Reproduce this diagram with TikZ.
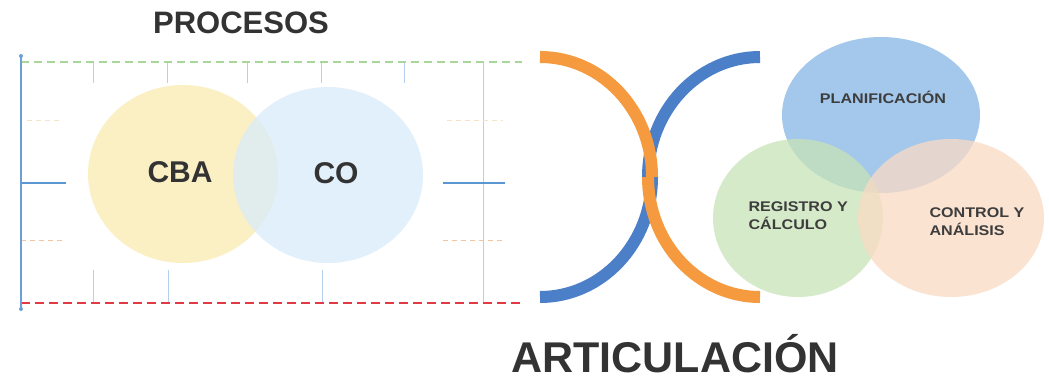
\documentclass[tikz,border=0pt]{standalone}
\usepackage{fontspec}
\setmainfont{Liberation Sans}
\newfontfamily\widesans{Liberation Sans}[FakeStretch=1.15]
\begin{document}
\begin{tikzpicture}[x=1pt,y=-1pt,
  ticksty/.style={draw=tickblue, line width=1pt},
  framesty/.style={draw=frameblue, line width=2pt},
  bigtitle/.style={font=\bfseries\fontsize{31}{36}\selectfont, text=txtgray},
  bigvenn/.style={font=\bfseries\fontsize{30}{34}\selectfont, text=txtgray},
  smallvenn/.style={font=\widesans\bfseries\fontsize{14}{18}\selectfont, text=smallgray, align=left},
  arcsty/.style={line width=12pt}]
\definecolor{txtgray}{HTML}{333333}
\definecolor{smallgray}{HTML}{3D3D3D}
\definecolor{tickblue}{HTML}{B5D0EC}
\definecolor{frameblue}{HTML}{6A9FD8}
\definecolor{midblue}{HTML}{5B97D2}
\definecolor{dgreen}{HTML}{A9D69A}
\definecolor{dred}{HTML}{E03A45}
\definecolor{fpeach}{HTML}{F6E2C6}
\definecolor{forange}{HTML}{F4C3A0}
\definecolor{cbacol}{HTML}{FAEBB0}
\definecolor{cocol}{HTML}{D8ECFA}
\definecolor{plancol}{HTML}{86B6E6}
\definecolor{regcol}{HTML}{C8E3B6}
\definecolor{ctrlcol}{HTML}{FADAC4}
\definecolor{arcorange}{HTML}{F59A3E}
\definecolor{arcblue}{HTML}{4B7FC8}

\useasboundingbox (0,0) rectangle (1049,383);
\fill[white] (0,0) rectangle (1049,383);

% frame coordinates
\coordinate (tl) at (21,62);
\coordinate (tr) at (522,62);
\coordinate (bl) at (21,303);
\coordinate (br) at (522,303);

% ticks
\foreach \x in {93,167,247,321,404} \draw[ticksty] (\x,62) -- (\x,83);
\foreach \x in {93,168,322} \draw[ticksty] (\x,270) -- (\x,303);
\draw[ticksty] (483,62) -- (483,303);

% faint dashed lines
\draw[fpeach, line width=1pt, dash pattern=on 5pt off 4pt] (27,120) -- (63,120);
\draw[fpeach, line width=1pt, dash pattern=on 5pt off 4pt] (447,120) -- (503,120);
\draw[forange, line width=1pt, dash pattern=on 5pt off 4pt] (21,240) -- (63,240);
\draw[forange, line width=1pt, dash pattern=on 5pt off 4pt] (443,240) -- (503,240);

% dashed top and bottom
\draw[dgreen, line width=1.6pt, dash pattern=on 8pt off 5pt] (tl) -- (tr);
\draw[dred, line width=2.6pt, dash pattern=on 9pt off 5pt] (bl) -- (br);

% left vertical
\coordinate (vtop) at (21,56);
\coordinate (vbot) at (21,309);
\draw[framesty] (vtop) -- (vbot);
\fill[frameblue] (vtop) circle (2pt);
\fill[frameblue] (vbot) circle (2pt);

% middle horizontal lines
\coordinate (ml1) at (21,183);
\coordinate (ml2) at (66,183);
\coordinate (mr1) at (443,183);
\coordinate (mr2) at (505,183);
\draw[midblue, line width=2.4pt] (ml1) -- (ml2);
\draw[midblue, line width=2.4pt] (mr1) -- (mr2);

% left Venn
\fill[cbacol, fill opacity=0.75] (183,174) ellipse [x radius=95, y radius=89];
\fill[cocol, fill opacity=0.75] (328,175) ellipse [x radius=95, y radius=88];
\node[bigvenn] (cba) at (180,172) {CBA};
\node[bigvenn] (co) at (336,173) {CO};

% title
\node[bigtitle] (procesos) at (241,23) {PROCESOS};

% arcs (y axis points down: angle -90 is the top)
\draw[arcblue, arcsty] (540,177) ++(90:112 and 120) arc[start angle=90, end angle=0, x radius=112, y radius=120];
\draw[arcblue, arcsty] (760,177) ++(-90:112 and 120) arc[start angle=-90, end angle=-180, x radius=112, y radius=120];
\draw[arcorange, arcsty] (540,177) ++(-90:112 and 120) arc[start angle=-90, end angle=0, x radius=112, y radius=120];
\draw[arcorange, arcsty] (760,177) ++(90:112 and 120) arc[start angle=90, end angle=180, x radius=112, y radius=120];

% right Venn
\fill[plancol, fill opacity=0.75] (881,115) ellipse [x radius=99, y radius=78];
\fill[regcol, fill opacity=0.75] (798,218) ellipse [x radius=85, y radius=79];
\fill[ctrlcol, fill opacity=0.75] (951,218) ellipse [x radius=93, y radius=79];
\node[smallvenn] (plan) at (883,97) {PLANIFICACIÓN};
\node[smallvenn, anchor=west] (reg) at (745,216) {REGISTRO Y\\CÁLCULO};
\node[smallvenn, anchor=west] (ctrl) at (926,222) {CONTROL Y\\ANÁLISIS};

% bottom title
\node[font=\bfseries\fontsize{43}{48}\selectfont, text=txtgray, anchor=base, inner sep=0pt] (artic) at (675,372) {ARTICULACIÓN};
\end{tikzpicture}
\end{document}
